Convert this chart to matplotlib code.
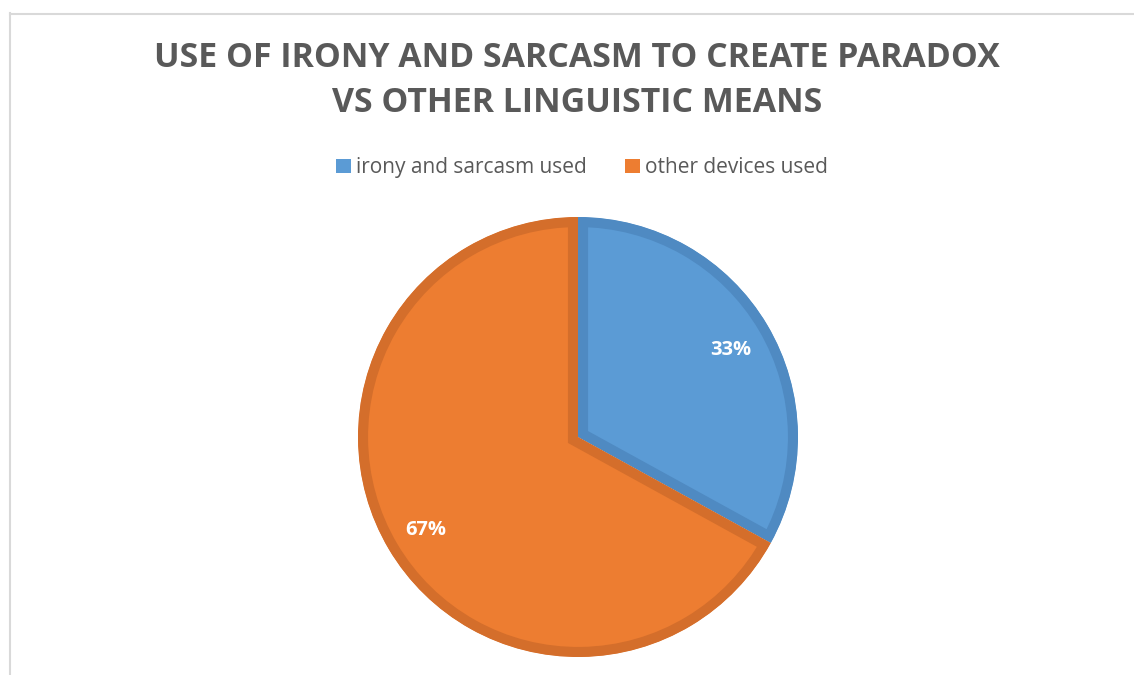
import matplotlib
matplotlib.use("Agg")
import matplotlib.pyplot as plt
import matplotlib.transforms as mtransforms
from matplotlib.patches import Patch
from matplotlib.lines import Line2D

# Data
categories = ["irony and sarcasm used", "other devices used"]
shares = [33, 67]
fill_colors = ["#5B9BD5", "#ED7D31"]
edge_colors = ["#4F8AC2", "#D46E2B"]
title_lines = ["USE OF IRONY AND SARCASM TO CREATE PARADOX", "VS OTHER LINGUISTIC MEANS"]

plt.rcParams["font.family"] = ["Open Sans", "DejaVu Sans"]

W, H = 1134, 675
fig = plt.figure(figsize=(W / 100, H / 100), dpi=100)
fig.patch.set_facecolor("white")

# Chart-area frame (top and left edges visible)
border = "#D9D9D9"
fig.add_artist(Line2D([10 / W, 1 - 1 / W], [1 - 13.5 / H, 1 - 13.5 / H],
                      transform=fig.transFigure, color=border, lw=1.5))
fig.add_artist(Line2D([9.5 / W, 9.5 / W], [0, 1 - 13 / H],
                      transform=fig.transFigure, color=border, lw=1.5))

# Title
fig.text(577 / W, 1 - 58 / H, title_lines[0], ha="center", va="center",
         fontsize=24.4, fontweight="bold", color="#595959")
fig.text(577 / W, 1 - 103 / H, title_lines[1], ha="center", va="center",
         fontsize=24.4, fontweight="bold", color="#595959")

# Pie
cx, cy, r = 578, 437, 220
ax = fig.add_axes([(cx - r) / W, (H - cy - r) / H, 2 * r / W, 2 * r / H])
wedges, texts, autotexts = ax.pie(
    shares, colors=fill_colors, startangle=90, counterclock=False,
    autopct="%.0f%%", pctdistance=0.805,
    textprops=dict(color="white", fontsize=14.5, fontweight="bold"),
)
# Border drawn inside each slice: double-width stroke clipped to the slice
for w, ec in zip(wedges, edge_colors):
    w.set_edgecolor(ec)
    w.set_linewidth(14.5)
    w.set_joinstyle("miter")
    w.set_clip_on(True)
    w.set_clip_path(w)
# Nudge percentage labels so the digits sit visually centred
for t in autotexts:
    t.set_transform(mtransforms.offset_copy(ax.transData, fig=fig, x=0, y=-3, units="dots"))
ax.set_xlim(-1, 1)
ax.set_ylim(-1, 1)
ax.set_aspect("equal")
ax.axis("off")

# Legend
handles = [Patch(facecolor=c, edgecolor="none") for c in fill_colors]
fig.legend(handles, categories, loc="center", bbox_to_anchor=(582 / W, 1 - 167.5 / H),
           ncol=2, frameon=False, fontsize=15, labelcolor="#595959",
           handlelength=0.68, handleheight=0.68, handletextpad=0.25,
           columnspacing=1.87, borderaxespad=0)

fig.savefig("out.png", dpi=100, facecolor="white")
